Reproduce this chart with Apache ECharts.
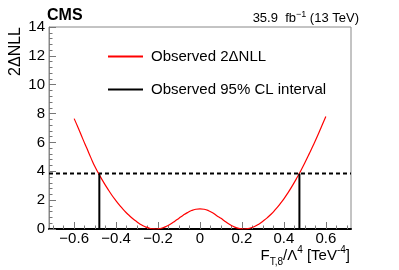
<!DOCTYPE html>
<html>
<head>
<meta charset="utf-8">
<script src="https://cdn.jsdelivr.net/npm/echarts@6/dist/echarts.min.js"></script>
<style>html,body{margin:0;padding:0;background:#fff}#c{width:399px;height:270px}</style>
</head>
<body>
<div id="c"></div>
<script>
// ---- data ----
var scanX = [-0.60,-0.58,-0.56,-0.54,-0.52,-0.50,-0.48,-0.46,-0.44,-0.42,-0.40,-0.38,-0.36,-0.34,-0.32,-0.30,-0.28,-0.26,-0.24,-0.22,-0.21,-0.20,-0.18,-0.16,-0.14,-0.12,-0.10,-0.08,-0.06,-0.04,-0.02,0.00,
             0.02,0.04,0.06,0.08,0.10,0.12,0.14,0.16,0.18,0.20,0.207,0.22,0.24,0.26,0.28,0.30,0.32,0.34,0.36,0.38,0.40,0.42,0.44,0.46,0.48,0.50,0.52,0.54,0.56,0.58,0.60];
var scanY = [7.65,6.98,6.28,5.61,4.93,4.29,3.75,3.25,2.78,2.34,1.95,1.59,1.26,0.97,0.71,0.49,0.29,0.15,0.05,0.005,0.0,0.008,0.069,0.187,0.35,0.544,0.752,0.956,1.136,1.278,1.369,1.40,
             1.368,1.275,1.129,0.92,0.737,0.526,0.332,0.171,0.057,0.004,0.0,0.01,0.07,0.17,0.33,0.54,0.77,1.04,1.36,1.71,2.09,2.52,2.99,3.49,4.02,4.59,5.19,5.80,6.44,7.12,7.80];
var clLevel = 3.84;
var intervalLow = -0.48;
var intervalHigh = 0.474;
var xRange = [-0.72, 0.72];
var yRange = [0, 14];
var xMajorTicks = [-0.6,-0.4,-0.2,0,0.2,0.4,0.6];
var xMinorTicks = [-0.7,-0.65,-0.55,-0.5,-0.45,-0.35,-0.3,-0.25,-0.15,-0.1,-0.05,0.05,0.1,0.15,0.25,0.3,0.35,0.45,0.5,0.55,0.65,0.7];
var curveName = 'Observed 2\u0394NLL';
var intervalName = 'Observed 95% CL interval';

var FONT = 'Liberation Sans';
var curve = scanX.map(function(x,i){return [x, scanY[i]];});
function fmt(v){ var s = (Math.round(v*10)/10).toString(); return s.replace('-', '\u2212'); }

var chart = echarts.init(document.getElementById('c'), null, {renderer:'canvas'});
chart.setOption({
  animation:false,
  backgroundColor:'#fff',
  grid:{left:49,right:48,top:27,bottom:41,show:true,borderColor:'#888',borderWidth:1,backgroundColor:'transparent'},
  xAxis:[{
    type:'value', min:xRange[0], max:xRange[1],
    axisLine:{show:true,onZero:false,lineStyle:{color:'#000',width:2}},
    axisTick:{show:true,inside:true,length:7,customValues:xMajorTicks,lineStyle:{color:'#777'}},
    axisLabel:{show:true,customValues:xMajorTicks,margin:2,fontFamily:FONT,fontSize:15,color:'#000',formatter:fmt},
    splitLine:{show:false}
  },{
    type:'value', min:xRange[0], max:xRange[1], position:'bottom',
    axisLine:{show:false,onZero:false},
    axisTick:{show:true,inside:true,length:3.5,customValues:xMinorTicks,lineStyle:{color:'#777'}},
    axisLabel:{show:false},
    splitLine:{show:false}
  }],
  yAxis:{
    type:'value', min:yRange[0], max:yRange[1], interval:2,
    axisLine:{show:true,onZero:false,lineStyle:{color:'#888',width:1}},
    axisTick:{show:true,inside:true,length:7,lineStyle:{color:'#777'}},
    minorTick:{show:true,splitNumber:5,length:3.5,lineStyle:{color:'#777'}},
    axisLabel:{margin:4,fontFamily:FONT,fontSize:15,color:'#000'},
    splitLine:{show:false}
  },
  legend:{
    orient:'vertical', left:107, top:49, padding:0, itemWidth:35, itemHeight:15, itemGap:18,
    itemStyle:{opacity:0},
    data:[curveName, intervalName],
    textStyle:{fontFamily:FONT,fontSize:15,color:'#000',padding:[0,0,0,3]}
  },
  series:[
    {name:curveName,type:'line',data:curve,symbol:'none',smooth:true,lineStyle:{color:'#ff0000',width:1.2},itemStyle:{color:'#ff0000'},z:3},
    {name:intervalName,type:'line',data:[[intervalLow,0],[intervalLow,clLevel]],symbol:'none',lineStyle:{color:'#000',width:2},itemStyle:{color:'#000'},z:4},
    {name:intervalName,type:'line',data:[[intervalHigh,0],[intervalHigh,clLevel]],symbol:'none',lineStyle:{color:'#000',width:2},itemStyle:{color:'#000'},z:4},
    {name:'threshold',type:'line',data:[[xRange[0],clLevel],[xRange[1],clLevel]],symbol:'none',lineStyle:{color:'#000',width:2,type:[4,3]},z:2}
  ],
  graphic:[
    {type:'text',left:47,top:8,style:{text:'CMS',fontFamily:FONT,fontWeight:'bold',fontSize:16,fill:'#000'}},
    {type:'text',right:40,top:10,style:{
      text:'35.9  fb{sup|\u22121} (13 TeV)',fontFamily:FONT,fontSize:13,fill:'#000',
      rich:{sup:{fontFamily:FONT,fontSize:9,verticalAlign:'top',lineHeight:16}}}},
    {type:'text',x:16,y:27,rotation:Math.PI/2,style:{text:'2\u0394NLL',fontFamily:FONT,fontSize:16,fill:'#000',align:'right',verticalAlign:'middle'}},
    {type:'text',x:350,y:256,style:{
      text:'F{sub|T,8}/\u039B{sup|4} [TeV{sup|-4}]',fontFamily:FONT,fontSize:15,fill:'#000',align:'right',verticalAlign:'middle',lineHeight:22,
      rich:{
        sub:{fontFamily:FONT,fontSize:10,verticalAlign:'bottom',lineHeight:12},
        sup:{fontFamily:FONT,fontSize:10,verticalAlign:'top',lineHeight:12}
      }}}
  ]
});
</script>
</body>
</html>
